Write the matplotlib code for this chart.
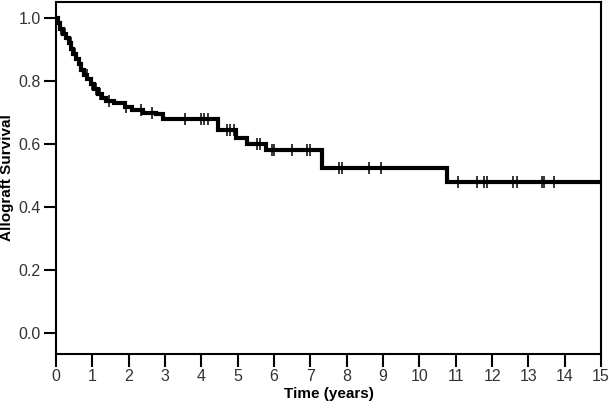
import numpy as np
import matplotlib
matplotlib.use('Agg')
import matplotlib.pyplot as plt

plt.rcParams['font.family'] = ['Liberation Sans', 'DejaVu Sans']

# Kaplan-Meier steps (years, survival after the drop)
event_times = [0.05, 0.12, 0.2, 0.28, 0.36, 0.42, 0.48, 0.55, 0.62, 0.7, 0.78,
               0.86, 0.95, 1.05, 1.15, 1.27, 1.38, 1.6, 1.9, 2.1, 2.4, 2.75,
               2.95, 4.47, 4.95, 5.26, 5.78, 7.32, 10.76]
survival = [0.985, 0.965, 0.95, 0.935, 0.92, 0.90, 0.885, 0.87, 0.855, 0.835,
            0.82, 0.805, 0.79, 0.775, 0.76, 0.745, 0.737, 0.730, 0.717, 0.707,
            0.700, 0.694, 0.681, 0.645, 0.620, 0.600, 0.580, 0.523, 0.479]

# censored observations
censor_times = [0.15, 0.25, 0.4, 0.52, 0.66, 0.85, 0.98, 1.1, 1.2, 1.45, 1.92,
                2.35, 2.65, 3.55, 4.0, 4.08, 4.19, 4.7, 4.8, 4.9, 5.53, 5.62,
                5.95, 6.0, 6.5, 6.91, 6.99, 7.79, 7.87, 8.62, 8.95, 11.07,
                11.59, 11.78, 11.86, 12.58, 12.69, 13.38, 13.43, 13.71, 15.0]

x_ticks = list(range(0, 16))
y_ticks = [0.0, 0.2, 0.4, 0.6, 0.8, 1.0]

t = np.array([0.0] + event_times + [15.0])
s = np.array([1.0] + survival + [survival[-1]])
ct = np.array(censor_times)
cs = s[np.searchsorted(t, ct, side='right') - 1]

fig = plt.figure(figsize=(6.09, 4.09), dpi=100)
ax = fig.add_axes([0.092, 0.1345, 0.895, 0.8605])

ax.step(t, s, where='post', color='black', linewidth=3.0, solid_joinstyle='miter')
ax.plot(ct, cs, linestyle='none', marker='|', markersize=8.5, markeredgewidth=1.1,
        color='black', clip_on=False, zorder=3)

ax.set_xlim(0, 15)
ax.set_ylim(-0.065, 1.05)
ax.set_xticks(x_ticks)
ax.set_yticks(y_ticks)
ax.set_yticklabels([f'{v:.1f}' for v in y_ticks])

for sp in ax.spines.values():
    sp.set_linewidth(1.5)
ax.tick_params(direction='out', length=9, width=1.5, pad=2,
               labelsize=11.5, labelcolor='#333333')

ax.set_xlabel('Time (years)', fontsize=11, fontweight='bold', labelpad=2)
ax.set_ylabel('Allograft Survival', fontsize=11, fontweight='bold', labelpad=3)

fig.savefig('out.png', dpi=100)
